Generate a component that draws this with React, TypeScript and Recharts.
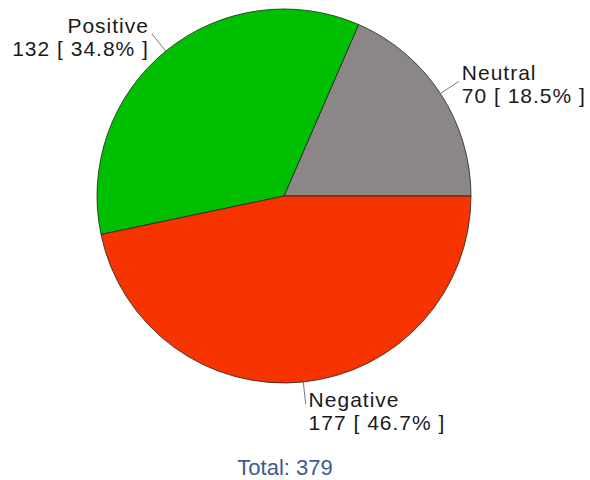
import React from 'react';
import { PieChart, Pie, Cell } from 'recharts';

// Sentiment breakdown
const categories = ['Neutral', 'Positive', 'Negative'];
const counts = [70, 132, 177];
const colors = ['#8b8786', '#00bf00', '#f73300'];

const total = counts.reduce((a, b) => a + b, 0);
const data = categories.map((name, i) => ({ name, value: counts[i] }));

const RADIAN = Math.PI / 180;
const FONT = "'Liberation Sans', Arial, sans-serif";

const renderLabel = (props: any) => {
  const { cx, cy, midAngle, outerRadius, name, value, percent } = props;
  const cos = Math.cos(-midAngle * RADIAN);
  const sin = Math.sin(-midAngle * RADIAN);
  const sx = cx + outerRadius * cos;
  const sy = cy + outerRadius * sin;
  const ex = cx + (outerRadius + 22) * cos;
  const ey = cy + (outerRadius + 22) * sin;
  const start = cos >= 0;
  const tx = start ? ex + 3 : ex - 3;
  const ty = ey + (sin > 0.9 ? 3 : -1);
  return (
    <g>
      <line x1={sx} y1={sy} x2={ex} y2={ey} stroke="#777" strokeWidth={1} />
      <text
        x={tx}
        y={ty}
        textAnchor={start ? 'start' : 'end'}
        fill="#1a1a1a"
        fontSize={21}
        letterSpacing={1}
        fontFamily={FONT}
      >
        <tspan x={tx} dy={0}>{name}</tspan>
        <tspan x={tx} dy={23}>{`${value} [ ${(percent * 100).toFixed(1)}% ]`}</tspan>
      </text>
    </g>
  );
};

export default function App() {
  return (
    <div style={{ position: 'absolute', left: 0, top: 0, width: 590, height: 480, background: '#fff' }}>
      <PieChart width={590} height={480} margin={{ top: 0, right: 0, bottom: 0, left: 0 }}>
        <Pie
          data={data}
          dataKey="value"
          nameKey="name"
          cx={284}
          cy={196}
          outerRadius={187}
          startAngle={0}
          endAngle={360}
          stroke="#222"
          strokeWidth={0.8}
          label={renderLabel}
          labelLine={false}
          isAnimationActive={false}
        >
          {data.map((entry, i) => (
            <Cell key={`cell-${entry.name}`} fill={colors[i]} />
          ))}
        </Pie>
      </PieChart>
      <div
        style={{
          position: 'absolute',
          left: 0,
          width: 570,
          top: 457,
          lineHeight: '22px',
          textAlign: 'center',
          fontFamily: FONT,
          fontSize: 22,
          color: '#3b5b8e',
        }}
      >
        {`Total: ${total}`}
      </div>
    </div>
  );
}
